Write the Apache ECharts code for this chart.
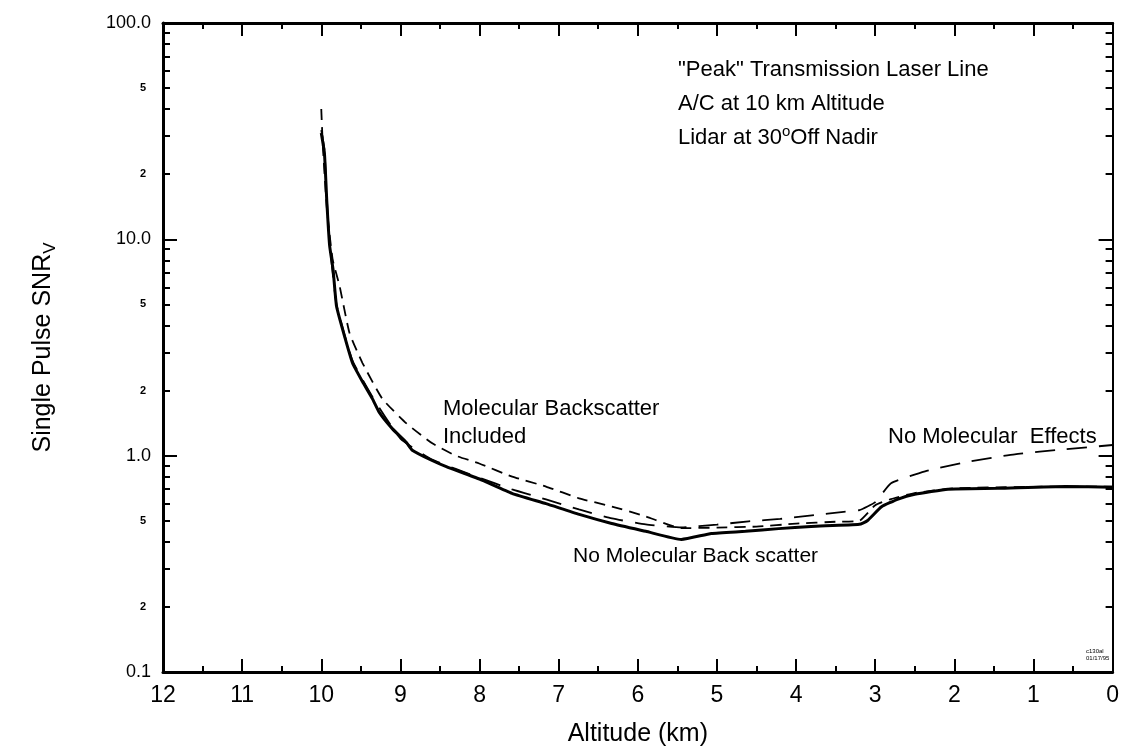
<!DOCTYPE html>
<html>
<head>
<meta charset="utf-8">
<script src="https://cdn.jsdelivr.net/npm/echarts@6/dist/echarts.min.js"></script>
<style>
  html, body { margin: 0; padding: 0; background: #fff; }
  #chart { width: 1122px; height: 752px; }
</style>
</head>
<body>
<div id="chart"></div>
<script>
// altitude (km) / single pulse SNR
const altNoBack = [10.0, 9.96, 9.93, 9.895, 9.85, 9.807, 9.7, 9.605, 9.48, 9.353, 9.265, 9.1, 8.924, 8.85, 8.6, 8.42, 8.0, 7.59, 7.16, 6.74, 6.33, 5.9, 5.45, 5.07, 4.64, 4.22, 3.81, 3.2, 3.1, 2.92, 2.71, 2.5, 2.08, 1.45, 0.6, 0.0];
const snrNoBack = [31, 25, 15, 9.4, 7.2, 4.9, 3.5, 2.68, 2.2, 1.83, 1.58, 1.33, 1.15, 1.06, 0.95, 0.89, 0.78, 0.67, 0.60, 0.535, 0.486, 0.447, 0.41, 0.437, 0.447, 0.46, 0.471, 0.482, 0.50, 0.58, 0.63, 0.663, 0.70, 0.706, 0.72, 0.715];

const altBackIncl = [10.0, 9.98, 9.93, 9.857, 9.769, 9.643, 9.479, 9.227, 8.924, 8.597, 8.3, 8.004, 7.588, 7.16, 6.744, 6.327, 5.9, 5.45, 5.0, 4.5, 4.0, 3.5, 3.2, 3.0, 2.8, 2.5, 2.0, 1.0, 0.0];
const snrBackIncl = [40, 27, 14, 8.1, 6.1, 3.69, 2.68, 1.83, 1.41, 1.14, 1.0, 0.92, 0.80, 0.72, 0.635, 0.582, 0.524, 0.462, 0.465, 0.47, 0.485, 0.495, 0.50, 0.59, 0.63, 0.672, 0.706, 0.718, 0.72];

const altNoMol = [10.0, 9.96, 9.93, 9.895, 9.807, 9.605, 9.353, 9.0, 8.6, 8.0, 7.588, 7.16, 6.744, 6.327, 5.9, 5.45, 5.0, 4.6, 4.2, 3.8, 3.4, 3.2, 3.0, 2.8, 2.37, 1.865, 1.235, 0.605, 0.0];
const snrNoMol = [32, 26, 15.5, 9.7, 5.0, 2.75, 1.87, 1.2, 0.96, 0.79, 0.698, 0.628, 0.564, 0.513, 0.481, 0.466, 0.48, 0.497, 0.51, 0.53, 0.55, 0.56, 0.61, 0.745, 0.847, 0.932, 1.015, 1.07, 1.12];

const minorTickVals = [0.2, 0.3, 0.4, 0.5, 0.6, 0.7, 0.8, 0.9, 2, 3, 4, 5, 6, 7, 8, 9, 20, 30, 40, 50, 60, 70, 80, 90];
const minorLabelVals = [0.2, 0.5, 2, 5, 20, 50];

const FONT = "'Liberation Sans', Arial, Helvetica, sans-serif";
const NARROW = "'Liberation Sans Narrow', 'Arial Narrow', 'Liberation Sans', Arial, sans-serif";

const pairs = (xs, ys) => xs.map((x, i) => [x, ys[i]]);
const lg = v => Math.log10(v);

const chart = echarts.init(document.getElementById('chart'));

const xBase = {
  type: 'value', min: 0, max: 12, interval: 1, inverse: true,
  axisLine: { show: true, onZero: false, lineStyle: { color: '#000', width: 3 } },
  axisTick: { show: true, inside: true, length: 13, lineStyle: { color: '#000', width: 2 } },
  minorTick: { show: true, splitNumber: 2, length: 6, lineStyle: { color: '#000', width: 2 } },
  splitLine: { show: false },
  minorSplitLine: { show: false },
};

const yMinorBase = {
  type: 'value', min: -1, max: 2,
  axisLine: { show: false, onZero: false },
  axisTick: { show: true, inside: true, length: 7, customValues: minorTickVals.map(lg), lineStyle: { color: '#000', width: 2 } },
  splitLine: { show: false },
};

// annotation text, placed by its vertical centre
const note = (text, x, cy, size) => ({
  type: 'text', left: x, top: cy - size / 2,
  style: { text: text, font: size + 'px ' + FONT, fill: '#000' },
});

chart.setOption({
  animation: false,
  backgroundColor: '#fff',
  grid: { left: 163, right: 9, top: 23, bottom: 77 },
  xAxis: [
    Object.assign({}, xBase, {
      position: 'bottom',
      axisLabel: { color: '#000', fontFamily: NARROW, fontSize: 23, margin: 12 },
      name: 'Altitude (km)', nameLocation: 'middle', nameGap: 50,
      nameTextStyle: { color: '#000', fontFamily: NARROW, fontSize: 25 },
    }),
    Object.assign({}, xBase, { position: 'top', axisLabel: { show: false } }),
  ],
  yAxis: [
    {
      type: 'log', logBase: 10, min: 0.1, max: 100, position: 'left',
      axisLine: { show: true, onZero: false, lineStyle: { color: '#000', width: 3 } },
      axisTick: { show: true, inside: true, length: 14, lineStyle: { color: '#000', width: 2 } },
      axisLabel: { color: '#000', fontFamily: FONT, fontSize: 18, margin: 12, formatter: v => Number(v).toFixed(1) },
      splitLine: { show: false },
      name: '{a|Single Pulse SNR}{s|V}', nameLocation: 'middle', nameGap: 104, nameRotate: 90,
      nameTextStyle: {
        color: '#000',
        rich: {
          a: { fontFamily: NARROW, fontSize: 25, color: '#000' },
          s: { fontFamily: NARROW, fontSize: 17, color: '#000', padding: [14, 0, 0, 0] },
        },
      },
    },
    Object.assign({}, yMinorBase, {
      position: 'left',
      axisLabel: {
        show: true, color: '#000', fontFamily: FONT, fontSize: 11, fontWeight: 'bold', margin: 17,
        customValues: minorLabelVals.map(lg),
        formatter: v => String(Math.round(Math.pow(10, v - Math.floor(v + 1e-9)))),
      },
    }),
    {
      type: 'log', logBase: 10, min: 0.1, max: 100, position: 'right',
      axisLine: { show: true, onZero: false, lineStyle: { color: '#000', width: 2 } },
      axisTick: { show: true, inside: true, length: 14, lineStyle: { color: '#000', width: 2 } },
      axisLabel: { show: false },
      splitLine: { show: false },
    },
    Object.assign({}, yMinorBase, { position: 'right', axisLabel: { show: false } }),
  ],
  series: [
    {
      name: 'No Molecular Backscatter', type: 'line', xAxisIndex: 0, yAxisIndex: 0,
      data: pairs(altNoBack, snrNoBack), showSymbol: false, smooth: 0.15,
      lineStyle: { color: '#000', width: 3 }, z: 5,
    },
    {
      name: 'Molecular Backscatter Included', type: 'line', xAxisIndex: 0, yAxisIndex: 0,
      data: pairs(altBackIncl, snrBackIncl), showSymbol: false, smooth: 0.15,
      lineStyle: { color: '#000', width: 1.8, type: [11, 7] },
    },
    {
      name: 'No Molecular Effects', type: 'line', xAxisIndex: 0, yAxisIndex: 0,
      data: pairs(altNoMol, snrNoMol), showSymbol: false, smooth: 0.15,
      lineStyle: { color: '#000', width: 1.8, type: [20, 12] },
    },
  ],
  graphic: [
    note('"Peak" Transmission Laser Line', 678, 70, 22),
    note('A/C at 10 km Altitude', 678, 104, 22),
    {
      type: 'text', left: 678, top: 124,
      style: {
        text: '{a|Lidar at 30}{s|o}{a|Off Nadir}', fill: '#000',
        rich: {
          a: { fontFamily: FONT, fontSize: 22, fill: '#000' },
          s: { fontFamily: FONT, fontSize: 15, fill: '#000', padding: [0, 0, 13, 0] },
        },
      },
    },
    note('Molecular Backscatter', 443, 409, 22),
    note('Included', 443, 437, 22),
    note('No Molecular Back scatter', 573, 556, 21),
    note('No Molecular  Effects', 888, 437, 22),
    { type: 'text', left: 1086, top: 648, style: { text: 'c130al\n01/17/95', font: '6px ' + FONT, fill: '#000', lineHeight: 7 } },
  ],
});
</script>
</body>
</html>
